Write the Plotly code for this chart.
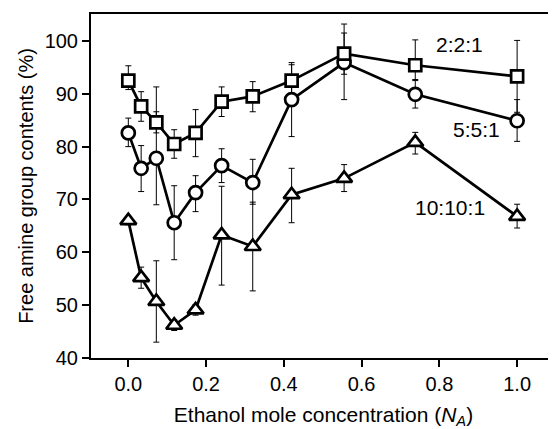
import plotly.graph_objects as go

x_vals = [0.0, 0.033, 0.072, 0.118, 0.173, 0.240, 0.320, 0.420, 0.555, 0.738, 1.0]

sq_y = [92.5, 87.6, 84.6, 80.5, 82.6, 88.5, 89.5, 92.5, 97.6, 95.4, 93.3]
sq_err_plus = [2.8, 2.8, 2.0, 2.7, 4.4, 2.8, 2.8, 3.0, 3.9, 4.8, 6.8]
sq_err_minus = [1.7, 2.8, 2.0, 2.7, 4.5, 2.8, 2.9, 3.0, 3.9, 2.7, 6.8]

ci_y = [82.6, 75.9, 77.8, 65.6, 71.3, 76.4, 73.2, 88.9, 95.9, 89.9, 84.9]
ci_err_plus = [2.8, 4.3, 13.5, 7.0, 3.2, 3.2, 4.4, 7.0, 7.3, 2.6, 4.0]
ci_err_minus = [2.6, 4.4, 8.8, 7.0, 3.6, 3.2, 4.1, 7.0, 7.0, 2.6, 3.9]

tr_y = [66.0, 55.2, 50.7, 46.2, 49.1, 63.3, 61.1, 70.9, 74.0, 80.8, 66.8]
tr_err_plus = [0.8, 2.0, 7.7, 1.0, 1.0, 9.2, 8.4, 5.0, 2.6, 1.9, 2.3]
tr_err_minus = [0.8, 2.0, 7.7, 1.0, 1.0, 9.5, 8.4, 5.3, 2.5, 2.2, 2.2]

series_labels = ["2:2:1", "5:5:1", "10:10:1"]
label_x = [0.853, 0.896, 0.827]
label_y = [99.3, 83.2, 68.4]

x_ticks = [0.0, 0.2, 0.4, 0.6, 0.8, 1.0]
x_tick_text = ["0.0", "0.2", "0.4", "0.6", "0.8", "1.0"]
y_ticks = [40, 50, 60, 70, 80, 90, 100]

FONT = "Liberation Sans, Arial, sans-serif"

series = [
    (tr_y, tr_err_plus, tr_err_minus, "triangle-up", 14),
    (ci_y, ci_err_plus, ci_err_minus, "circle", 13),
    (sq_y, sq_err_plus, sq_err_minus, "square", 12),
]

fig = go.Figure()

# error bars first (underneath)
for y, ep, em, symbol, size in series:
    fig.add_trace(go.Scatter(
        x=x_vals, y=y, mode="markers",
        marker=dict(size=1, opacity=0),
        error_y=dict(type="data", symmetric=False, array=ep, arrayminus=em,
                     color="black", thickness=1, width=3),
        showlegend=False, hoverinfo="skip", cliponaxis=False,
    ))

# lines and markers on top
for y, ep, em, symbol, size in series:
    fig.add_trace(go.Scatter(
        x=x_vals, y=y, mode="lines+markers",
        line=dict(color="black", width=2.7),
        marker=dict(symbol=symbol, size=size, color="white",
                    line=dict(color="black", width=2.7)),
        showlegend=False, cliponaxis=False,
    ))

for t, lx, ly in zip(series_labels, label_x, label_y):
    fig.add_annotation(x=lx, y=ly, text=t, showarrow=False,
                       font=dict(size=21, color="black", family=FONT))

fig.update_layout(
    width=548, height=421,
    margin=dict(l=83, r=0, t=6, b=71),
    paper_bgcolor="white", plot_bgcolor="white",
    font=dict(family=FONT, size=20, color="black"),
    xaxis=dict(
        range=[-0.096, 1.1], tickvals=x_ticks, ticktext=x_tick_text,
        ticks="outside", ticklen=7, tickwidth=2, tickcolor="black",
        showline=True, linecolor="black", linewidth=2, mirror=True,
        showgrid=False, zeroline=False,
        tickfont=dict(size=20),
        title=dict(text="Ethanol mole concentration (<i>N</i><sub><i>A</i></sub>)",
                   font=dict(size=21), standoff=13),
    ),
    yaxis=dict(
        range=[40, 105.1], tickvals=y_ticks,
        ticks="outside", ticklen=7, tickwidth=2, tickcolor="black",
        showline=True, linecolor="black", linewidth=2,
        showgrid=False, zeroline=False,
        tickfont=dict(size=20),
        title=dict(text="Free amine group contents (%)", font=dict(size=20), standoff=6),
    ),
)

fig.write_html("out.html")
